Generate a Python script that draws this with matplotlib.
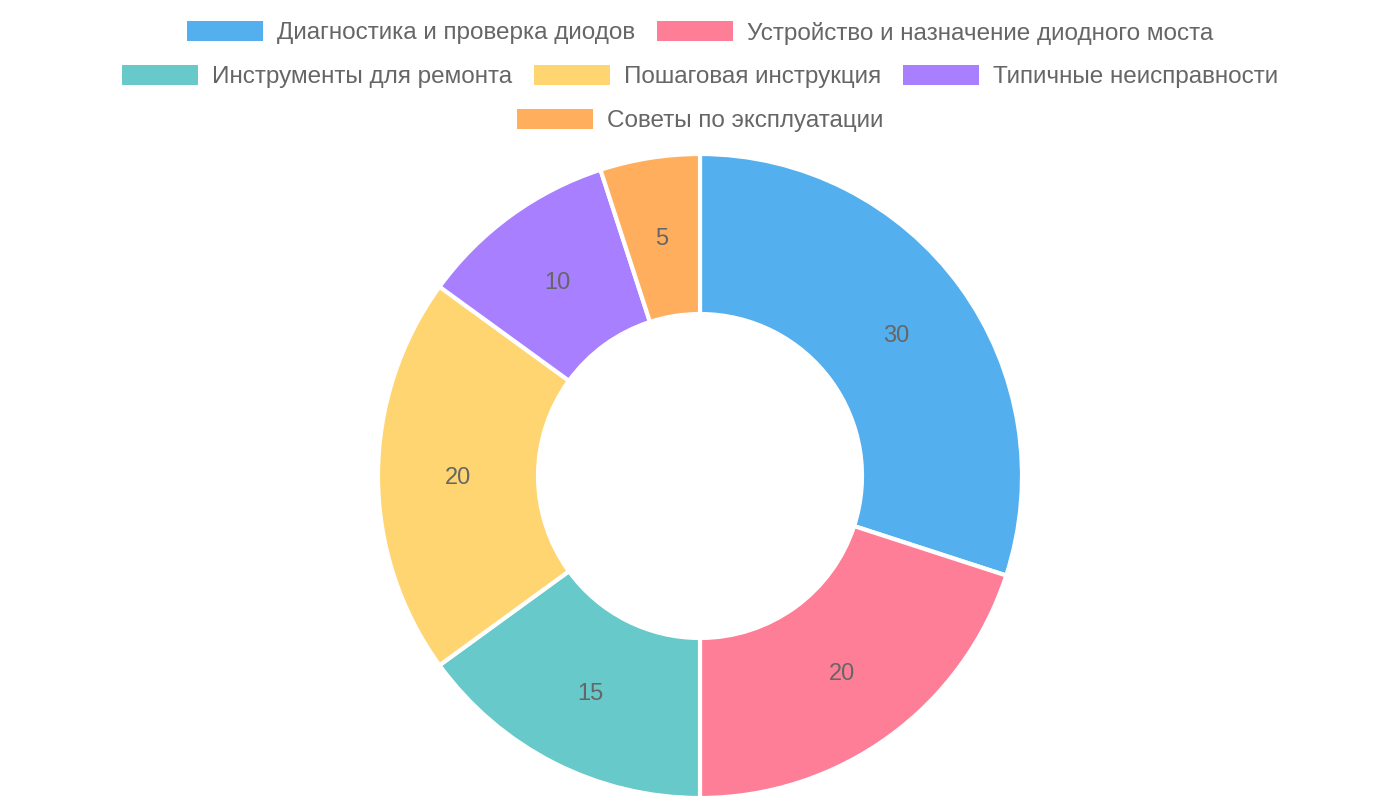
import matplotlib
matplotlib.use("Agg")
import matplotlib.pyplot as plt
from matplotlib.patches import Rectangle
import numpy as np

categories = [
    "Диагностика и проверка диодов",
    "Устройство и назначение диодного моста",
    "Инструменты для ремонта",
    "Пошаговая инструкция",
    "Типичные неисправности",
    "Советы по эксплуатации",
]
values = [30, 20, 15, 20, 10, 5]
colors = ["#54AFEE", "#FF7E97", "#67C9C9", "#FFD572", "#A77FFF", "#FFAE5E"]

plt.rcParams["font.family"] = ["Liberation Sans", "DejaVu Sans"]
TEXT = "#666666"
W, H = 1400, 800
fig = plt.figure(figsize=(W / 100, H / 100), dpi=100)
ax = fig.add_axes([0, 0, 1, 1])

cx, cy = 700, H - 476
R_out, R_in = 322, 162
wedges, _ = ax.pie(values, startangle=90, counterclock=False, colors=colors,
                   radius=R_out, center=(cx, cy), frame=True,
                   wedgeprops=dict(width=R_out - R_in, edgecolor="white", linewidth=3))
ax.set_xlim(0, W)
ax.set_ylim(0, H)
ax.set_aspect("equal")
ax.axis("off")

r_mid = (R_out + R_in) / 2
for w, v in zip(wedges, values):
    ang = np.deg2rad((w.theta1 + w.theta2) / 2)
    ax.text(cx + r_mid * np.cos(ang), cy + r_mid * np.sin(ang), str(v),
            ha="center", va="center_baseline", fontsize=17, color=TEXT)

# legend (wrapped rows, centered)
renderer = fig.canvas.get_renderer()
box_w, box_h, gap_t, gap_i = 76, 20, 14, 22
fs = 17.5
widths = []
for c in categories:
    t = ax.text(0, 0, c, fontsize=fs)
    bb = t.get_window_extent(renderer)
    widths.append(bb.width)
    t.remove()
max_w = W - 20
rows, cur, cur_w = [], [], 0
for i, tw in enumerate(widths):
    iw = box_w + gap_t + tw
    add = iw if not cur else gap_i + iw
    if cur and cur_w + add > max_w:
        rows.append((cur, cur_w))
        cur, cur_w = [i], iw
    else:
        cur.append(i)
        cur_w += add
rows.append((cur, cur_w))
row_y = [31, 75, 119]
for r, (items, rw) in enumerate(rows):
    x = (W - rw) / 2
    y = H - row_y[r]
    for i in items:
        ax.add_patch(Rectangle((x, y - box_h / 2), box_w, box_h, color=colors[i], lw=0))
        ax.text(x + box_w + gap_t, y, categories[i], fontsize=fs, color=TEXT,
                ha="left", va="center_baseline")
        x += box_w + gap_t + widths[i] + gap_i

fig.savefig("out.png", dpi=100)
